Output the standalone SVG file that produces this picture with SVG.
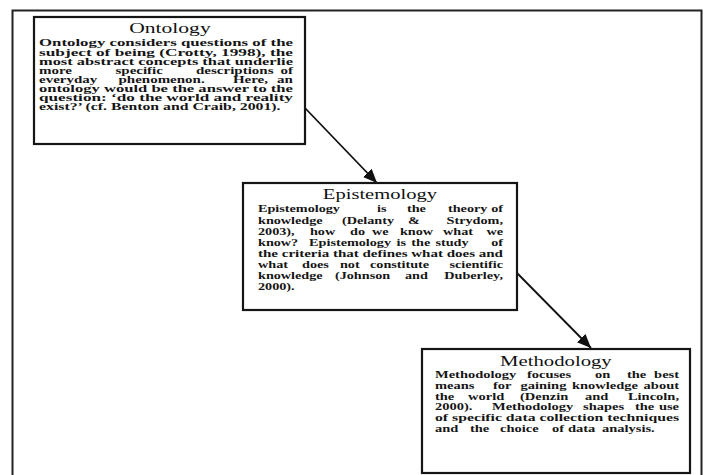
<svg xmlns="http://www.w3.org/2000/svg" width="707" height="475" viewBox="0 0 707 475">
  <style>
    .frame { fill: none; stroke: #222; stroke-width: 2; }
    .box { fill: #fff; stroke: #151515; stroke-width: 2.2; }
    .title { font-family: "Liberation Serif", "Times New Roman", serif; fill: #111; text-anchor: middle; }
    .body { font-family: "Liberation Serif", "Times New Roman", serif; font-size: 10px; font-weight: bold; fill: #151515; }
    .end { text-anchor: end; }
    .link { fill: none; stroke: #111; stroke-width: 1.8; }
  </style>
  <defs>
    <marker id="arrow" markerUnits="userSpaceOnUse" markerWidth="16" markerHeight="14" refX="14" refY="6" orient="auto">
      <path d="M0,0 L14,6 L0,12 Z" fill="#111"/>
    </marker>
  </defs>

  <rect width="707" height="475" fill="#fff"/>
  <!-- outer border, open at the bottom -->
  <path class="frame" d="M12.5,475 V10.5 H701.5 V475"/>

  <g id="connectors">
    <line class="link" x1="305" y1="108" x2="377" y2="183" marker-end="url(#arrow)"/>
    <line class="link" x1="517" y1="273" x2="591" y2="348" marker-end="url(#arrow)"/>
  </g>

  <!-- text blocks are drawn in a horizontally widened frame; line widths are in local units -->
  <g id="ontology">
    <rect class="box" x="34" y="17" width="271" height="127"/>
    <g transform="translate(39,0) scale(1.5,1)">
      <text class="title" x="87.3" y="33.5" style="font-size:14.4px">Ontology</text>
      <g class="body">
        <text x="0" y="46.5" textLength="169.3" lengthAdjust="spacingAndGlyphs">Ontology considers questions of the</text>
        <text x="0" y="55.6" textLength="169.3" lengthAdjust="spacingAndGlyphs">subject of being (Crotty, 1998), the</text>
        <text x="0" y="64.6" textLength="169.3" lengthAdjust="spacingAndGlyphs">most abstract concepts that underlie</text>
        <text y="73.7"><tspan x="0">more</tspan><tspan x="51">specific</tspan><tspan x="104.7">descriptions</tspan></text>
        <text class="end" x="169.3" y="73.7">of</text>
        <text y="82.8"><tspan x="0">everyday</tspan><tspan x="53">phenomenon.</tspan><tspan x="129.3">Here,</tspan></text>
        <text class="end" x="169.3" y="82.8">an</text>
        <text x="0" y="91.9" textLength="169.3" lengthAdjust="spacingAndGlyphs">ontology would be the answer to the</text>
        <text x="0" y="100.9" textLength="169.3" lengthAdjust="spacingAndGlyphs">question: ‘do the world and reality</text>
        <text x="0" y="110" textLength="161" lengthAdjust="spacingAndGlyphs">exist?’ (cf. Benton and Craib, 2001).</text>
      </g>
    </g>
  </g>

  <g id="epistemology">
    <rect class="box" x="243" y="183" width="274" height="127"/>
    <g transform="translate(258,0) scale(1.42,1)">
      <text class="title" x="85.9" y="199" style="font-size:14.5px">Epistemology</text>
      <g class="body">
        <text y="212.5"><tspan x="0">Epistemology</tspan><tspan x="83.8">is</tspan><tspan x="104.9">the</tspan><tspan x="133.8">theory</tspan></text>
        <text class="end" x="172.5" y="212.5">of</text>
        <text y="223.6"><tspan x="0">knowledge</tspan><tspan x="59.2">(Delanty</tspan><tspan x="105.6">&amp;</tspan></text>
        <text class="end" x="172.5" y="223.6">Strydom,</text>
        <text y="234.6"><tspan x="0">2003),</tspan><tspan x="36.6">how</tspan><tspan x="64.8">do</tspan><tspan x="80.3">we</tspan><tspan x="100">know</tspan><tspan x="130.3">what</tspan></text>
        <text class="end" x="172.5" y="234.6">we</text>
        <text y="245.7"><tspan x="0">know?</tspan><tspan x="36">Epistemology</tspan><tspan x="97.5">is</tspan><tspan x="108">the</tspan><tspan x="125">study</tspan></text>
        <text class="end" x="172.5" y="245.7">of</text>
        <text x="0" y="256.8" textLength="172.5" lengthAdjust="spacingAndGlyphs">the criteria that defines what does and</text>
        <text y="267.9"><tspan x="0">what</tspan><tspan x="31">does</tspan><tspan x="57.7">not</tspan><tspan x="78.9">constitute</tspan></text>
        <text class="end" x="172.5" y="267.9">scientific</text>
        <text y="278.9"><tspan x="0">knowledge</tspan><tspan x="54.2">(Johnson</tspan><tspan x="103.5">and</tspan></text>
        <text class="end" x="172.5" y="278.9">Duberley,</text>
        <text x="0" y="290">2000).</text>
      </g>
    </g>
  </g>

  <g id="methodology">
    <rect class="box" x="422" y="349" width="268" height="124"/>
    <g transform="translate(435,0) scale(1.45,1)">
      <text class="title" x="83.4" y="366" style="font-size:14.3px">Methodology</text>
      <g class="body">
        <text y="378"><tspan x="0">Methodology</tspan><tspan x="63.4">focuses</tspan><tspan x="110.3">on</tspan><tspan x="132.4">the</tspan></text>
        <text class="end" x="168.3" y="378">best</text>
        <text y="388.8"><tspan x="0">means</tspan><tspan x="40">for</tspan><tspan x="59">gaining</tspan><tspan x="94.5">knowledge</tspan></text>
        <text class="end" x="168.3" y="388.8">about</text>
        <text y="399.6"><tspan x="0">the</tspan><tspan x="22.8">world</tspan><tspan x="58.6">(Denzin</tspan><tspan x="103.4">and</tspan></text>
        <text class="end" x="168.3" y="399.6">Lincoln,</text>
        <text y="410.4"><tspan x="0">2000).</tspan><tspan x="39.3">Methodology</tspan><tspan x="102.1">shapes</tspan><tspan x="137.9">the</tspan></text>
        <text class="end" x="168.3" y="410.4">use</text>
        <text x="0" y="421.2" textLength="168.3" lengthAdjust="spacingAndGlyphs">of specific data collection techniques</text>
        <text y="432"><tspan x="0">and</tspan><tspan x="24.1">the</tspan><tspan x="44.8">choice</tspan><tspan x="80.7">of</tspan><tspan x="91.7">data</tspan><tspan x="115.2">analysis.</tspan></text>
      </g>
    </g>
  </g>
</svg>
